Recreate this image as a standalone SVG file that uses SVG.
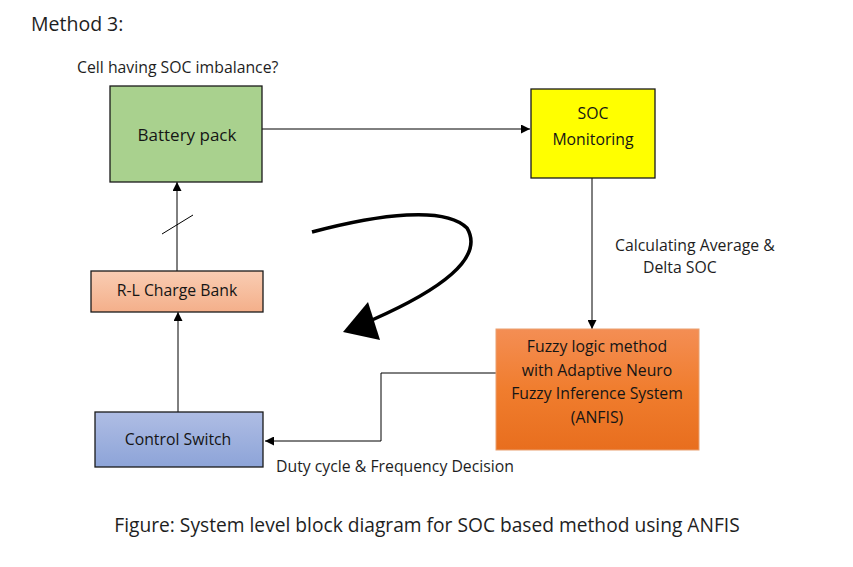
<svg xmlns="http://www.w3.org/2000/svg" width="853" height="567" viewBox="0 0 853 567">
<style>
text{font-family:"Open Sans","Liberation Sans",sans-serif;fill:#1e1e1e}
.lbl{font-size:15.8px;text-anchor:middle;dominant-baseline:central;fill:#151515}
.side{font-size:15.8px}
.box{stroke:#1a1a1a;stroke-width:1.3}
.conn{fill:none;stroke:#000;stroke-width:1}
</style>
<defs>
<marker id="ah" viewBox="0 0 10 10" refX="10" refY="5" markerWidth="9" markerHeight="9" markerUnits="userSpaceOnUse" orient="auto">
<path d="M0,0 L10,5 L0,10 z" fill="#000"/>
</marker>
<linearGradient id="gRL" x1="0" y1="0" x2="0" y2="1"><stop offset="0" stop-color="#F9CDB3"/><stop offset="1" stop-color="#F4AF8A"/></linearGradient>
<linearGradient id="gCS" x1="0" y1="0" x2="0" y2="1"><stop offset="0" stop-color="#AFBDE4"/><stop offset="1" stop-color="#8DA4D8"/></linearGradient>
<linearGradient id="gFZ" x1="0" y1="0" x2="0" y2="1"><stop offset="0" stop-color="#F48E54"/><stop offset="0.5" stop-color="#F07D2E"/><stop offset="1" stop-color="#E86E1E"/></linearGradient>
</defs>
<rect width="853" height="567" fill="#fff"/>
<text x="31" y="31" style="font-size:19.5px">Method 3:</text>
<text x="77" y="73" style="font-size:15.8px">Cell having SOC imbalance?</text>

<g id="connectors">
<line class="conn" x1="262" y1="129" x2="530" y2="129" marker-end="url(#ah)"/>
<line class="conn" x1="592" y1="178" x2="592" y2="329" marker-end="url(#ah)"/>
<polyline class="conn" points="496,373 381,373 381,441 265,441" marker-end="url(#ah)"/>
<line class="conn" x1="178" y1="412" x2="178" y2="312" marker-end="url(#ah)"/>
<line class="conn" x1="177" y1="271" x2="177" y2="182" marker-end="url(#ah)"/>
<line class="conn" x1="162" y1="234" x2="193" y2="215"/>
<path d="M312,232 C380,214 445,206 467,228 C485,258 440,290 372,320" fill="none" stroke="#000" stroke-width="3.5"/>
<polygon points="343,332 368,302 380,340" fill="#000"/>
<text class="side" x="615" y="251">Calculating Average &amp;</text>
<text class="side" x="643" y="273">Delta SOC</text>
<text class="side" x="276" y="472">Duty cycle &amp; Frequency Decision</text>
</g>

<g id="battery">
<rect class="box" x="110" y="86" width="152" height="96" fill="#A9D18E"/>
<text class="lbl" x="187" y="134" style="font-size:17px">Battery pack</text>
</g>
<g id="soc">
<rect class="box" x="531" y="89" width="124" height="89" fill="#FFFF00"/>
<text class="lbl" x="593" y="113">SOC</text>
<text class="lbl" x="593" y="139">Monitoring</text>
</g>
<g id="rl">
<rect class="box" x="91" y="271" width="172" height="41" fill="url(#gRL)"/>
<text class="lbl" x="177" y="290">R-L Charge Bank</text>
</g>
<g id="fuzzy">
<rect x="496" y="329" width="203" height="121" fill="url(#gFZ)" stroke="#E9A070" stroke-width="1"/>
<text class="lbl" x="597" y="346">Fuzzy logic method</text>
<text class="lbl" x="597" y="370">with Adaptive Neuro</text>
<text class="lbl" x="597" y="393">Fuzzy Inference System</text>
<text class="lbl" x="597" y="417">(ANFIS)</text>
</g>
<g id="control">
<rect class="box" x="95" y="412" width="168" height="55" fill="url(#gCS)"/>
<text class="lbl" x="178" y="439">Control Switch</text>
</g>
<text x="427" y="532" style="font-size:19.2px;text-anchor:middle">Figure: System level block diagram for SOC based method using ANFIS</text>
</svg>
